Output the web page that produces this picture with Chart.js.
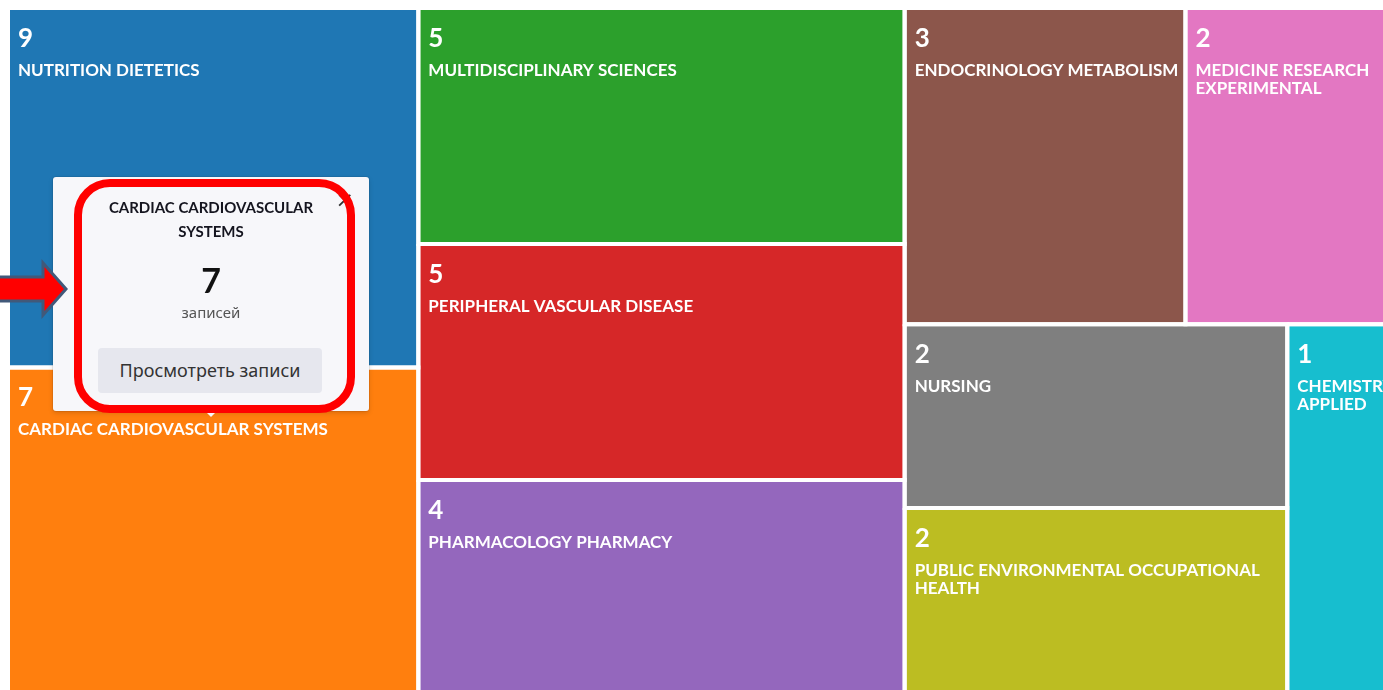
<!DOCTYPE html>
<html lang="ru">
<head>
<meta charset="utf-8">
<title>Категории Web of Science</title>
<script src="https://cdn.jsdelivr.net/npm/chart.js@4.4.1/dist/chart.umd.min.js"></script>
<style>
  html, body { margin: 0; padding: 0; background: #fff; overflow: hidden; }
  #wrap { position: relative; width: 1383px; height: 690px; }
  #popup {
    position: absolute; width: 316px; height: 234px;
    background: #f7f7fa; border-radius: 3px;
    box-shadow: 0 0 0 1px rgba(0,0,0,0.07), 0 2px 5px rgba(0,0,0,0.15);
    text-align: center; font-family: 'Noto Sans', sans-serif;
  }
  #popup::after {
    content: ''; position: absolute; left: 50%; margin-left: -6px; bottom: -6px;
    border-left: 6px solid transparent; border-right: 6px solid transparent;
    border-top: 6px solid #f7f7fa;
  }
  #popup .title { margin: 18px auto 0; width: 240px; font: bold 15px/24px Lato, sans-serif; color: #15151f; }
  #popup .count { margin-top: 20px; font: bold 34px/34px Lato, sans-serif; color: #111; }
  #popup .unit { margin-top: 5px; font: 15px/20px 'Noto Sans', sans-serif; color: #555; }
  #popup .btn {
    position: absolute; left: 45px; top: 171px; width: 224px; height: 45px;
    background: #e6e7ee; border-radius: 4px;
    font: 18px/45px 'Noto Sans', sans-serif; color: #333;
  }
  #popup .close { position: absolute; right: 15px; top: 12px; font: 22px/22px 'DejaVu Sans', sans-serif; color: #333; }
  #marks { position: absolute; left: 0; top: 0; pointer-events: none; }
</style>
</head>
<body>
<div id="wrap">
  <canvas id="treemap" width="1383" height="690"></canvas>
  <div id="popup">
    <div class="close">×</div>
    <div class="title" id="popupTitle"></div>
    <div class="count" id="popupCount"></div>
    <div class="unit" id="popupUnit"></div>
    <div class="btn" id="popupButton"></div>
  </div>
  <svg id="marks" width="1383" height="690">
    <rect id="ring" fill="none" stroke="#ff0000" stroke-width="8"></rect>
    <polygon id="arrow" fill="#ff0000" stroke="#41597a" stroke-width="3" stroke-linejoin="miter"></polygon>
  </svg>
</div>
<script>
// Research areas and record counts
const categories = [
  'NUTRITION DIETETICS',
  'CARDIAC CARDIOVASCULAR SYSTEMS',
  'MULTIDISCIPLINARY SCIENCES',
  'PERIPHERAL VASCULAR DISEASE',
  'PHARMACOLOGY PHARMACY',
  'ENDOCRINOLOGY METABOLISM',
  'MEDICINE RESEARCH EXPERIMENTAL',
  'NURSING',
  'PUBLIC ENVIRONMENTAL OCCUPATIONAL HEALTH',
  'CHEMISTRY APPLIED'
];
const recordCounts = [9, 7, 5, 5, 4, 3, 2, 2, 2, 1];
const cellColors = ['#1f77b4', '#ff7f0e', '#2ca02c', '#d62728', '#9467bd',
                    '#8c564b', '#e377c2', '#7f7f7f', '#bcbd22', '#17becf'];

// popup texts
const focusIndex = 1;
const unitText = 'записей';
const buttonText = 'Просмотреть записи';

// treemap box (right and bottom edges are cut off in the view)
const TREE_W = 1400;
const TREE_H = 684;
const VIEW_W = 1375;
const VIEW_H = 682;

// d3-style squarify, areas follow log(1 + count)
function squarify(weights, x0, y0, x1, y1) {
  const ratio = (1 + Math.sqrt(5)) / 2;
  const out = [];
  const n = weights.length;
  let value = weights.reduce((a, b) => a + b, 0);
  let i0 = 0;
  while (i0 < n) {
    const dx = x1 - x0, dy = y1 - y0;
    let i1 = i0 + 1;
    let sum = weights[i0], minV = sum, maxV = sum;
    const alpha = Math.max(dy / dx, dx / dy) / (value * ratio);
    let beta = sum * sum * alpha;
    let minRatio = Math.max(maxV / beta, beta / minV);
    for (; i1 < n; i1++) {
      const v = weights[i1];
      const s = sum + v;
      const mn = Math.min(minV, v), mx = Math.max(maxV, v);
      beta = s * s * alpha;
      const r = Math.max(mx / beta, beta / mn);
      if (r > minRatio) break;
      sum = s; minV = mn; maxV = mx; minRatio = r;
    }
    if (dx < dy) {
      const h = dy * sum / value;
      let x = x0;
      for (let i = i0; i < i1; i++) {
        const w = dx * weights[i] / sum;
        out[i] = { x0: x, x1: x + w, y0: y0, y1: y0 + h };
        x += w;
      }
      y0 += h;
    } else {
      const w = dx * sum / value;
      let y = y0;
      for (let i = i0; i < i1; i++) {
        const h = dy * weights[i] / sum;
        out[i] = { x0: x0, x1: x0 + w, y0: y, y1: y + h };
        y += h;
      }
      x0 += w;
    }
    value -= sum;
    i0 = i1;
  }
  return out;
}

const cells = squarify(recordCounts.map(v => Math.log1p(v)), 0, 0, TREE_W, TREE_H);

function wrapWords(ctx, text, maxW) {
  const words = text.split(' ');
  const lines = [];
  let line = '';
  words.forEach(word => {
    const test = line ? line + ' ' + word : word;
    if (line && ctx.measureText(test).width > maxW) {
      lines.push(line);
      line = word;
    } else {
      line = test;
    }
  });
  if (line) lines.push(line);
  return lines;
}

const cellLabels = {
  id: 'cellLabels',
  afterDatasetsDraw(chart) {
    const ctx = chart.ctx;
    const xs = chart.scales.x, ys = chart.scales.y;
    cells.forEach((c, i) => {
      const left = xs.getPixelForValue(c.x0), right = xs.getPixelForValue(c.x1);
      const top = ys.getPixelForValue(c.y0), bottom = ys.getPixelForValue(c.y1);
      ctx.save();
      ctx.beginPath();
      ctx.rect(left + 2, top + 2, right - left - 4, bottom - top - 4);
      ctx.clip();
      ctx.fillStyle = '#fff';
      ctx.textAlign = 'left';
      ctx.textBaseline = 'alphabetic';
      ctx.font = 'bold 26px Lato';
      ctx.fillText(String(recordCounts[i]), left + 10, top + 39);
      ctx.font = 'bold 17px Lato';
      const lines = wrapWords(ctx, categories[i], right - left - 14);
      lines.forEach((ln, k) => ctx.fillText(ln, left + 10, top + 68 + k * 18));
      ctx.restore();
    });
  }
};

const chart = new Chart(document.getElementById('treemap'), {
  type: 'line',
  data: {
    datasets: cells.map((c, i) => ({
      label: categories[i],
      data: [
        { x: c.x0, y: c.y0 }, { x: c.x1, y: c.y0 },
        { x: c.x1, y: c.y1 }, { x: c.x0, y: c.y1 }, { x: c.x0, y: c.y0 }
      ],
      fill: 'shape',
      backgroundColor: cellColors[i],
      borderColor: '#ffffff',
      borderWidth: 4,
      borderJoinStyle: 'miter',
      pointRadius: 0,
      pointHoverRadius: 0,
      tension: 0
    }))
  },
  options: {
    responsive: false,
    animation: false,
    devicePixelRatio: 1,
    layout: { padding: { left: 8, top: 8, right: 0, bottom: 0 } },
    scales: {
      x: { type: 'linear', display: false, min: 0, max: VIEW_W },
      y: { type: 'linear', display: false, reverse: true, min: 0, max: VIEW_H }
    },
    plugins: {
      legend: { display: false },
      tooltip: { enabled: false },
      filler: { drawTime: 'beforeDatasetsDraw' }
    },
    events: []
  },
  plugins: [cellLabels]
});

// popup over the focused cell + screenshot marks
(function placePopup() {
  const c = cells[focusIndex];
  const xs = chart.scales.x, ys = chart.scales.y;
  const cx = (xs.getPixelForValue(c.x0) + xs.getPixelForValue(c.x1)) / 2;
  const cellTop = ys.getPixelForValue(c.y0);
  const pl = Math.round(cx - 160);
  const pt = Math.round(cellTop + 44 - 234);
  const popup = document.getElementById('popup');
  popup.style.left = pl + 'px';
  popup.style.top = pt + 'px';
  document.getElementById('popupTitle').textContent = categories[focusIndex];
  document.getElementById('popupCount').textContent = recordCounts[focusIndex];
  document.getElementById('popupUnit').textContent = unitText;
  document.getElementById('popupButton').textContent = buttonText;

  const ring = document.getElementById('ring');
  ring.setAttribute('x', pl + 25);
  ring.setAttribute('y', pt + 6);
  ring.setAttribute('width', 273);
  ring.setAttribute('height', 226);
  ring.setAttribute('rx', 32);

  const tx = pl + 13, ty = pt + 112;
  const pts = [[-10, ty - 12], [tx - 23, ty - 12], [tx - 23, ty - 26], [tx, ty],
               [tx - 23, ty + 26], [tx - 23, ty + 12], [-10, ty + 12]];
  document.getElementById('arrow').setAttribute('points', pts.map(p => p.join(',')).join(' '));
})();
</script>
</body>
</html>
